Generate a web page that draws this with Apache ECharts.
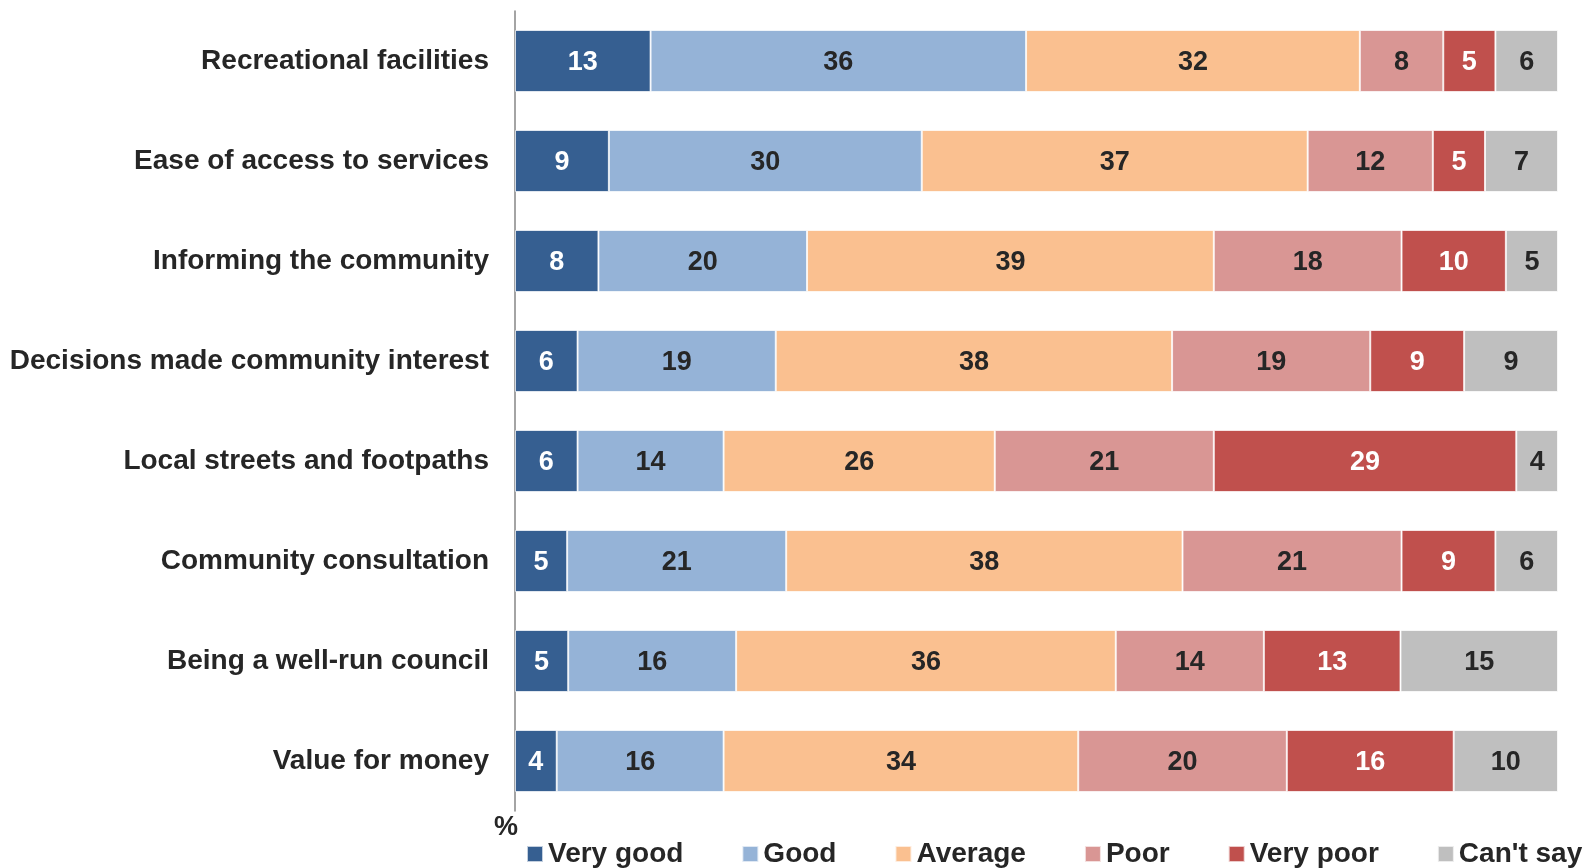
<!DOCTYPE html>
<html>
<head>
<meta charset="utf-8">
<script src="https://cdn.jsdelivr.net/npm/echarts@6/dist/echarts.min.js"></script>
<style>
html,body{margin:0;padding:0;background:#fff;}
#chart{width:1589px;height:868px;}
</style>
</head>
<body>
<div id="chart"></div>
<script>
const categories = ['Recreational facilities','Ease of access to services','Informing the community','Decisions made community interest','Local streets and footpaths','Community consultation','Being a well-run council','Value for money'];
const seriesNames = ['Very good','Good','Average','Poor','Very poor',"Can't say"];
const veryGood = [13, 9, 8, 6, 6, 5, 5.1, 4];
const good = [36, 30, 20, 19, 14, 21, 16.1, 16];
const average = [32, 37, 39, 38, 26, 38, 36.4, 34];
const poor = [8, 12, 18, 19, 21, 21, 14.2, 20];
const veryPoor = [5, 5, 10, 9, 29, 9, 13.1, 16];
const cantSay = [6, 7, 5, 9, 4, 6, 15.1, 10];

const values = [veryGood, good, average, poor, veryPoor, cantSay];
const colors = ['#365F91', '#95B3D7', '#FAC090', '#D99694', '#C0504D', '#BFBFBF'];
const labelColors = ['#ffffff', '#262626', '#262626', '#262626', '#ffffff', '#262626'];
const FONT = "'Liberation Sans', Arial, sans-serif";

const chart = echarts.init(document.getElementById('chart'), null, {renderer: 'canvas'});
chart.setOption({
  animation: false,
  backgroundColor: '#ffffff',
  textStyle: {fontFamily: FONT},
  grid: {left: 515, right: 31, top: 11, bottom: 57, containLabel: false},
  legend: {
    data: seriesNames,
    left: 521, top: 835,
    icon: 'rect', itemWidth: 16, itemHeight: 16, itemGap: 58,
    textStyle: {fontSize: 28, fontWeight: 'bold', color: '#262626', fontFamily: FONT}
  },
  xAxis: {
    type: 'value', min: 0, max: 100,
    axisLine: {show: false}, axisTick: {show: false}, axisLabel: {show: false}, splitLine: {show: false}
  },
  yAxis: {
    type: 'category', data: categories, inverse: true,
    axisLine: {show: true, lineStyle: {color: '#868686', width: 1.5}},
    axisTick: {show: false},
    axisLabel: {margin: 26, fontSize: 28, fontWeight: 'bold', color: '#262626', fontFamily: FONT, padding: [6, 0, 0, 0]}
  },
  graphic: [{
    type: 'text', left: 494, top: 814,
    style: {text: '%', fontSize: 27, fontWeight: 'bold', fill: '#262626', font: "bold 27px 'Liberation Sans', Arial, sans-serif"}
  }],
  series: seriesNames.map((name, i) => ({
    name: name,
    type: 'bar',
    stack: 'total',
    barWidth: 62,
    data: values[i],
    itemStyle: {color: colors[i], borderColor: 'rgba(255,255,255,0.7)', borderWidth: 1},
    label: {
      show: true, position: 'inside', offset: [0, 2],
      fontSize: 27, fontWeight: 'bold', color: labelColors[i], fontFamily: FONT,
      formatter: p => String(Math.round(p.value))
    }
  }))
});
</script>
</body>
</html>
